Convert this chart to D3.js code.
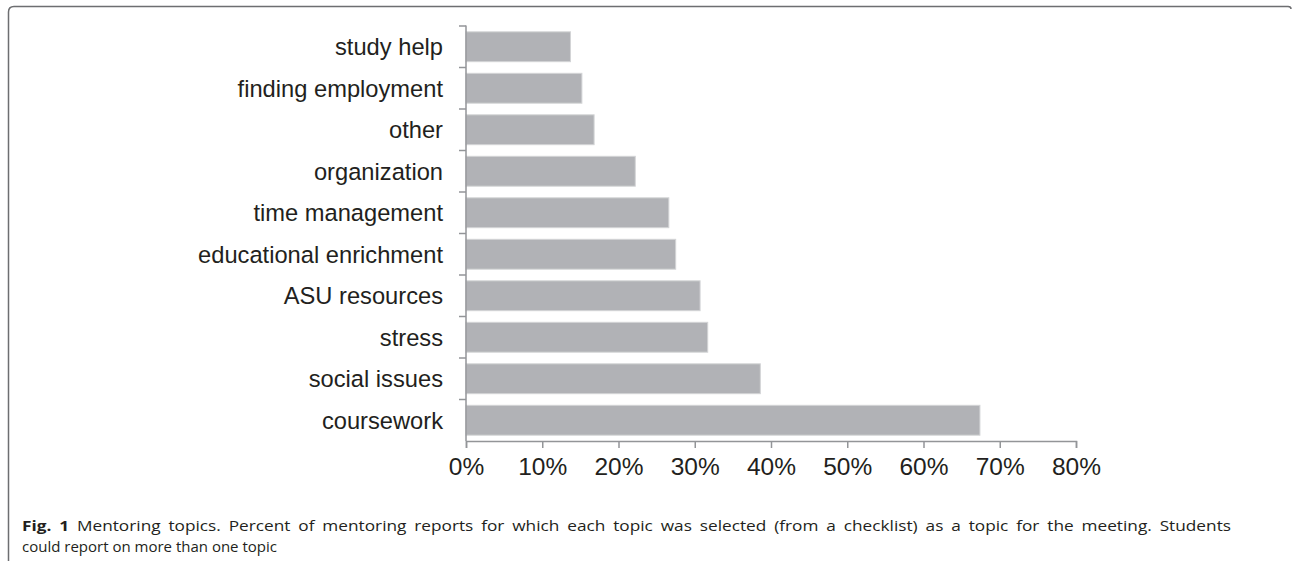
<!DOCTYPE html>
<html>
<head>
<meta charset="utf-8">
<script src="https://cdn.jsdelivr.net/npm/d3@7"></script>
<style>
  html, body { margin: 0; padding: 0; background: #fff; }
  svg { display: block; }
</style>
</head>
<body>
<svg id="chart" width="1292" height="561"></svg>
<script>
// ---- data ----
const categories = ["study help", "finding employment", "other", "organization", "time management",
  "educational enrichment", "ASU resources", "stress", "social issues", "coursework"];
const percentValues = [13.7, 15.2, 16.8, 22.2, 26.6, 27.5, 30.7, 31.7, 38.6, 67.4];
const xTickValues = [0, 10, 20, 30, 40, 50, 60, 70, 80];
const captionBold = "Fig. 1";
const captionLine1 = " Mentoring topics. Percent of mentoring reports for which each topic was selected (from a checklist) as a topic for the meeting. Students";
const captionLine2 = "could report on more than one topic";

const svg = d3.select("#chart");

// frame (rounded top-left corner)
svg.append("path")
  .attr("d", "M8.5,561 L8.5,12 Q8.5,6.5 14,6.5 L1288,6.5 Q1291,6.5 1291,9")
  .attr("fill", "none").attr("stroke", "#6d6e71").attr("stroke-width", 1.5);

const x = d3.scaleLinear().domain([0, 80]).range([466, 1076]);
const y = d3.scaleBand().domain(categories).range([26, 441]).paddingInner(0.28).paddingOuter(0.14);

const data = categories.map((c, i) => ({ c, v: percentValues[i] }));

// bars
svg.append("g").selectAll("rect").data(data).join("rect")
  .attr("x", x(0))
  .attr("y", d => y(d.c))
  .attr("width", d => x(d.v) - x(0))
  .attr("height", y.bandwidth())
  .attr("fill", "#b1b2b6")
  .attr("stroke", "#d3d4d6").attr("stroke-width", 1);

const axisColor = "#939598";

// y axis: line + ticks at band boundaries
const yAxisG = svg.append("g");
yAxisG.append("line")
  .attr("x1", x(0)).attr("x2", x(0)).attr("y1", 26 - 0.5).attr("y2", 441)
  .attr("stroke", axisColor).attr("stroke-width", 1.5);
const boundaries = categories.map(c => y(c) - y.step() * y.paddingInner() / 2);
yAxisG.selectAll("line.tk").data(boundaries).join("line").attr("class", "tk")
  .attr("x1", x(0) - 7).attr("x2", x(0)).attr("y1", d => d).attr("y2", d => d)
  .attr("stroke", axisColor).attr("stroke-width", 1.5);
yAxisG.selectAll("text").data(categories).join("text")
  .attr("x", 443).attr("y", d => y(d) + y.bandwidth() / 2)
  .attr("dy", "0.35em")
  .attr("text-anchor", "end")
  .attr("font-family", "'Liberation Sans', Arial, sans-serif")
  .attr("font-size", 23.7).attr("fill", "#231f20")
  .text(d => d);

// x axis
const xAxis = d3.axisBottom(x).tickValues(xTickValues).tickSize(7).tickPadding(10)
  .tickFormat(d => d + "%");
const xg = svg.append("g").attr("transform", "translate(0,441)").call(xAxis);
xg.select(".domain").attr("stroke", axisColor).attr("stroke-width", 1.5);
xg.selectAll(".tick line").attr("stroke", axisColor).attr("stroke-width", 1.5);
xg.selectAll(".tick text")
  .attr("font-family", "'Liberation Sans', Arial, sans-serif")
  .attr("font-size", 24.5).attr("fill", "#231f20");

// caption: narrow-looking font, first line justified
const capFont = "'Open Sans', 'Noto Sans', sans-serif";
const capSize = 15;
const capStart = 22, line1End = 1231, line2End = 277;

// line 2 (ragged)
const g2 = svg.append("g");
const t2 = g2.append("text").attr("x", 0).attr("y", 552)
  .attr("font-family", capFont).attr("font-size", capSize).attr("fill", "#231f20")
  .text(captionLine2);
const sx2 = (line2End - capStart) / t2.node().getComputedTextLength();
g2.attr("transform", `translate(${capStart},0) scale(${sx2},1)`);

// line 1 (justified): glyph scale a bit wider, rest via word spacing
const g1 = svg.append("g");
const t1 = g1.append("text").attr("x", 0).attr("y", 531)
  .attr("font-family", capFont).attr("font-size", capSize).attr("fill", "#231f20");
t1.append("tspan").attr("font-weight", "bold").text(captionBold);
t1.append("tspan").text(captionLine1);
const sx1 = sx2 * 1.15;
g1.attr("transform", `translate(${capStart},0) scale(${sx1},1)`);
const full1 = captionBold + captionLine1;
const nSpaces = full1.split(" ").length - 1;
const w1 = t1.node().getComputedTextLength();
const wordSp = Math.max(0, ((line1End - capStart) / sx1 - w1) / nSpaces);
t1.attr("word-spacing", wordSp);
</script>
</body>
</html>
